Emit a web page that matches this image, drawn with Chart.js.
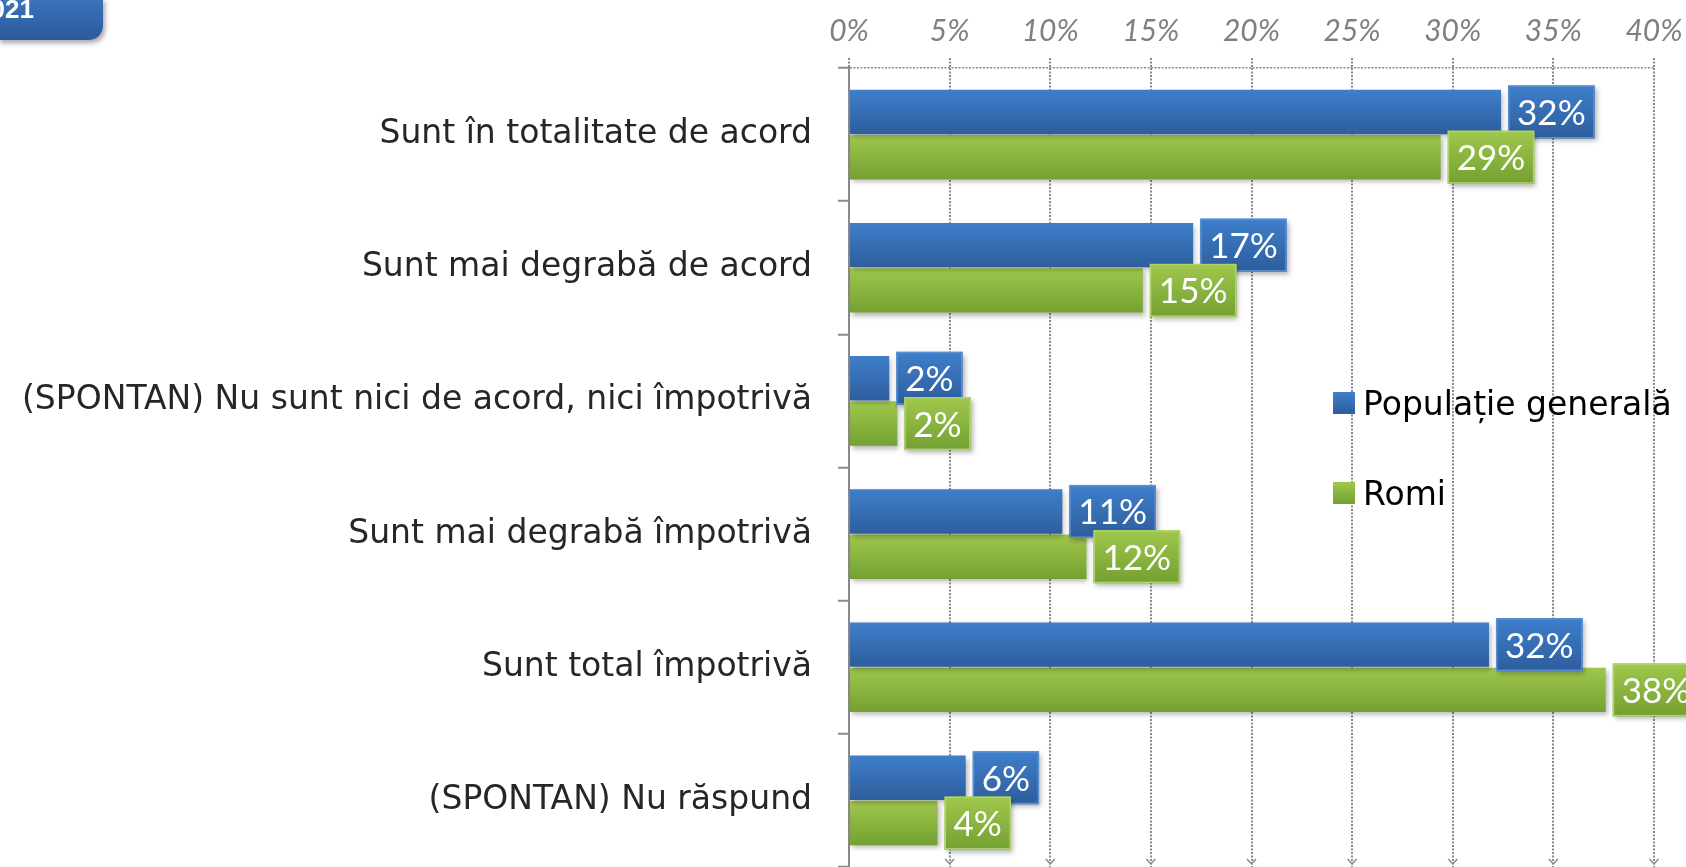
<!DOCTYPE html>
<html lang="ro">
<head>
<meta charset="utf-8">
<title>Acord / împotrivă</title>
<script src="https://cdn.jsdelivr.net/npm/chart.js@4"></script>
<style>
    html, body { margin: 0; padding: 0; background: #ffffff; }
    #wrap { position: relative; width: 1686px; height: 867px; overflow: hidden; }
    #badge {
        position: absolute; left: -2px; top: -2px; width: 105px; height: 42px;
        background: linear-gradient(#3c74bd, #2b5a9a);
        border-radius: 0 0 14px 0;
        box-shadow: 2px 3px 5px rgba(0,0,0,0.35);
        overflow: hidden;
    }
    #badge span {
        position: absolute; right: 69px; top: -2px;
        font: bold 26px 'Liberation Sans', sans-serif; line-height: 1;
        color: #ffffff;
    }
    #legend { position: absolute; left: 1333px; top: 380px; }
    .item { position: absolute; left: 0; height: 46px; display: flex; align-items: center; white-space: nowrap;
        font: 33px 'DejaVu Sans', sans-serif; color: #000; }
    .item i { display: inline-block; width: 22px; height: 22px; margin-right: 8px; }
</style>
</head>
<body>
<div id="wrap">
    <canvas id="chart" width="1686" height="867"></canvas>
    <div id="badge"><span>2021</span></div>
    <div id="legend"></div>
</div>
<script>
// categories (top to bottom)
const categories = [
    'Sunt în totalitate de acord',
    'Sunt mai degrabă de acord',
    '(SPONTAN) Nu sunt nici de acord, nici împotrivă',
    'Sunt mai degrabă împotrivă',
    'Sunt total împotrivă',
    '(SPONTAN) Nu răspund'
];

// series values, %
const populatieGenerala = [32.4, 17.1, 2.0, 10.6, 31.8, 5.8];
const romi = [29.4, 14.6, 2.4, 11.8, 37.6, 4.4];

const seriesNames = ['Populație generală', 'Romi'];

// x axis ticks
const xTicks = [0, 5, 10, 15, 20, 25, 30, 35, 40];

const palette = [
    { top: '#3f7fcc', bottom: '#2d5d9c', edge: '#5a8fd2', solid: '#3a70b8' },
    { top: '#9fc84c', bottom: '#74a032', edge: '#b0d46a', solid: '#8ab640' }
];

const CAT_PCT = 0.68;
const GRID = '#8a8a8a';
const HUMAN = "Lato, 'Open Sans', sans-serif";
const TAHOMA = "'DejaVu Sans', sans-serif";

function gradientFor(chart, ds, top, bottom) {
    const g = chart.ctx.createLinearGradient(0, top, 0, bottom);
    g.addColorStop(0, palette[ds].top);
    g.addColorStop(1, palette[ds].bottom);
    return g;
}

function barFill(c) {
    const chart = c.chart;
    const yScale = chart.scales.y;
    if (c.dataIndex === undefined || !chart.chartArea || !yScale) return palette[c.datasetIndex].solid;
    const center = yScale.getPixelForValue(c.dataIndex);
    const band = (chart.chartArea.bottom - chart.chartArea.top) / categories.length * CAT_PCT;
    const top = c.datasetIndex === 0 ? center - band / 2 : center;
    return gradientFor(chart, c.datasetIndex, top, top + band / 2);
}

// drop shadow under bars
const shadowPlugin = {
    id: 'barShadow',
    beforeDatasetDraw(chart) {
        const ctx = chart.ctx;
        ctx.save();
        ctx.shadowColor = 'rgba(0,0,0,0.28)';
        ctx.shadowBlur = 5;
        ctx.shadowOffsetX = 2;
        ctx.shadowOffsetY = 3;
    },
    afterDatasetDraw(chart) {
        chart.ctx.restore();
    }
};

// small arrow heads at the bottom of the vertical grid lines
const arrowPlugin = {
    id: 'gridArrows',
    beforeDatasetsDraw(chart) {
        const { ctx, chartArea, scales } = chart;
        ctx.save();
        ctx.strokeStyle = GRID;
        ctx.lineWidth = 1.5;
        xTicks.slice(1).forEach(v => {
            const x = scales.x.getPixelForValue(v);
            const b = chartArea.bottom - 2;
            ctx.beginPath();
            ctx.moveTo(x - 4.5, b - 6);
            ctx.lineTo(x, b - 1);
            ctx.lineTo(x + 4.5, b - 6);
            ctx.stroke();
        });
        ctx.restore();
    }
};

// boxed value labels at the end of every bar
const labelPlugin = {
    id: 'boxLabels',
    afterDatasetsDraw(chart) {
        const ctx = chart.ctx;
        const h = 53;
        chart.data.datasets.forEach((ds, di) => {
            const meta = chart.getDatasetMeta(di);
            meta.data.forEach((bar, i) => {
                const text = Math.round(ds.data[i]) + '%';
                ctx.save();
                ctx.font = '35px ' + HUMAN;
                const w = ctx.measureText(text).width + 18;
                const left = bar.x + 7;
                const top = bar.y - h / 2;
                ctx.shadowColor = 'rgba(0,0,0,0.3)';
                ctx.shadowBlur = 5;
                ctx.shadowOffsetX = 2;
                ctx.shadowOffsetY = 3;
                ctx.fillStyle = gradientFor(chart, di, top, top + h);
                ctx.fillRect(left, top, w, h);
                ctx.shadowColor = 'transparent';
                ctx.strokeStyle = palette[di].edge;
                ctx.lineWidth = 1.5;
                ctx.strokeRect(left + 0.75, top + 0.75, w - 1.5, h - 1.5);
                ctx.fillStyle = '#ffffff';
                ctx.textAlign = 'center';
                ctx.textBaseline = 'alphabetic';
                ctx.fillText(text, left + w / 2, bar.y + 13);
                ctx.restore();
            });
        });
    }
};

const chart = new Chart(document.getElementById('chart'), {
    type: 'bar',
    data: {
        labels: categories,
        datasets: seriesNames.map((name, i) => ({
            label: name,
            data: i === 0 ? populatieGenerala : romi,
            backgroundColor: barFill,
            borderWidth: 0,
            categoryPercentage: CAT_PCT,
            barPercentage: 0.98
        }))
    },
    options: {
        indexAxis: 'y',
        responsive: false,
        animation: false,
        events: [],
        layout: { padding: 0 },
        plugins: {
            colors: { enabled: false },
            legend: { display: false },
            tooltip: { enabled: false }
        },
        scales: {
            x: {
                position: 'top',
                min: 0,
                max: 40,
                afterBuildTicks: (scale) => { scale.ticks = xTicks.map(v => ({ value: v })); },
                afterFit: (scale) => {
                    scale.height = 68;
                    scale.paddingRight = 32;
                    scale.paddingLeft = 0;
                },
                ticks: {
                    callback: (v) => v + '%',
                    color: '#7f7f7f',
                    padding: 9,
                    font: { family: HUMAN, size: 30, style: 'italic' }
                },
                grid: {
                    color: GRID,
                    lineWidth: 2,
                    tickLength: 10,
                    tickColor: GRID,
                    tickWidth: 2,
                    tickBorderDash: [2, 1.5]
                },
                border: { display: false, dash: [2, 1.5] }
            },
            y: {
                afterFit: (scale) => {
                    scale.width = 849;
                    scale.paddingTop = 0;
                    scale.paddingBottom = 0;
                },
                ticks: {
                    color: '#262626',
                    padding: 26,
                    font: { family: TAHOMA, size: 33 }
                },
                grid: {
                    offset: true,
                    color: (c) => c.index === 0 ? GRID : 'rgba(0,0,0,0)',
                    lineWidth: 1.5,
                    tickLength: 11,
                    tickColor: GRID,
                    tickWidth: 2,
                    tickBorderDash: []
                },
                border: { display: true, color: GRID, width: 2, dash: [2, 1.5] }
            }
        }
    },
    plugins: [arrowPlugin, shadowPlugin, labelPlugin]
});

// legend built from the datasets
const legend = document.getElementById('legend');
chart.data.datasets.forEach((ds, i) => {
    const row = document.createElement('div');
    row.className = 'item';
    row.style.top = (i * 90) + 'px';
    const sw = document.createElement('i');
    sw.style.background = 'linear-gradient(' + palette[i].top + ', ' + palette[i].bottom + ')';
    row.appendChild(sw);
    row.appendChild(document.createTextNode(ds.label));
    legend.appendChild(row);
});
</script>
</body>
</html>
